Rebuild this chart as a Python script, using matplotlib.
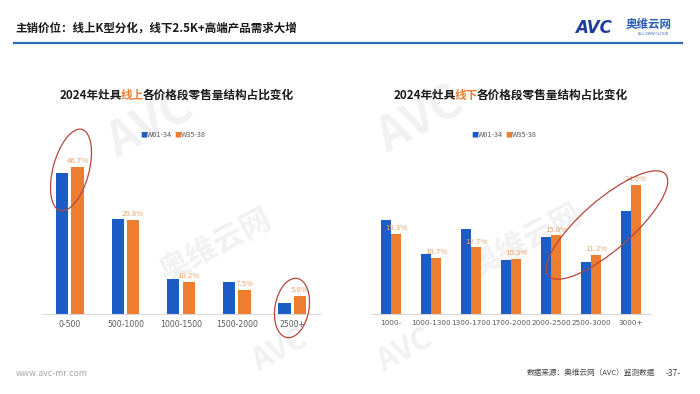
import matplotlib
matplotlib.use("Agg")
import matplotlib.pyplot as plt
import numpy as np
from matplotlib.patches import Ellipse

plt.rcParams['font.family'] = ['Noto Sans CJK SC', 'DejaVu Sans']

# ---- data ----
online_cats = ["0-500", "500-1000", "1000-1500", "1500-2000", "2500+"]
online_w01 = [45.0, 30.3, 11.2, 10.3, 3.6]
online_w35 = [46.7, 29.8, 10.2, 7.5, 5.8]

offline_cats = ["1000-", "1000-1300", "1300-1700", "1700-2000", "2000-2500", "2500-3000", "3000+"]
offline_w01 = [17.9, 11.5, 16.2, 10.4, 14.6, 9.9, 19.6]
offline_w35 = [15.3, 10.7, 12.7, 10.5, 15.0, 11.2, 24.6]

series_names = ["W01-34", "W35-38"]

BLUE = "#1B5CC6"
ORANGE = "#ED7D31"
LBL = "#E9A46E"
RED = "#B5473A"
W, H = 700, 394

fig = plt.figure(figsize=(7, 3.94), dpi=100)
fig.patch.set_facecolor("white")

def px(x, y):
    return x / W, 1 - y / H

# faint watermarks (behind the charts)
for (x, y, s, rot, fs) in [(150, 125, "AVC", 28, 34), (215, 245, "奥维云网", 28, 22),
                           (420, 120, "AVC", 28, 34), (525, 240, "奥维云网", 28, 22),
                           (280, 350, "AVC", 28, 22), (405, 350, "AVC", 28, 22)]:
    fig.text(*px(x, y), s, fontsize=fs, color="#F1F1F1", rotation=rot, ha="center",
             va="center", fontweight="bold", style="italic", zorder=-5)

# header
fig.text(*px(15, 28), "主销价位：线上K型分化，线下2.5K+高端产品需求大增", fontsize=8.3,
         fontweight="bold", color="#1a1a1a", va="center", ha="left")
fig.add_artist(plt.Line2D([14 / W, 682 / W], [1 - 43 / H] * 2, color="#2E6DB4", lw=1.6))
fig.text(*px(575, 28), "AVC", fontsize=12, fontweight="bold", style="italic",
         color="#1F3C99", va="center", ha="left", family="DejaVu Sans")
fig.text(*px(626, 24), "奥维云网", fontsize=8.3, fontweight="bold", color="#2A5CB8",
         va="center", ha="left")
fig.text(*px(638, 34), "ALL VIEW CLOUD", fontsize=2.8, color="#2A5CB8", va="center", ha="left")

# footer
fig.text(*px(16, 373), "www.avc-mr.com", fontsize=6.3, color="#A6A6A6", va="center")
fig.text(*px(655, 373), "数据来源：奥维云网（AVC）监测数据", fontsize=5.5, color="#404040",
         va="center", ha="right")
fig.text(*px(681, 373), "-37-", fontsize=6, color="#404040", va="center", ha="right")


def title(x0, y, part1, hl, part2):
    kw = dict(fontsize=8.4, fontweight="bold", va="bottom", ha="left",
              textcoords="offset points", xytext=(-1.2, 0), annotation_clip=False)
    t1 = fig.text(*px(x0, y), part1, fontsize=8.4, fontweight="bold", color="#1a1a1a",
                  va="center", ha="left")
    t2 = plt.annotate(hl, xy=(1, 0), xycoords=t1, color=ORANGE, **kw)
    plt.annotate(part2, xy=(1, 0), xycoords=t2, color="#1a1a1a", **kw)


def legend(cx, y):
    items = [(cx - 28, BLUE, series_names[0]), (cx + 6, ORANGE, series_names[1])]
    for x, c, s in items:
        fig.text(*px(x, y), "■", fontsize=5, color=c, va="center", ha="center")
        fig.text(*px(x + 3, y), s, fontsize=5.2, color="#595959", va="center", ha="left")


def panel(left, right, base, ppu, ymax, cats, a, b, off, bw, tfs):
    ax = fig.add_axes([left / W, (H - base) / H, (right - left) / W, ymax * ppu / H])
    n = len(cats)
    x = np.arange(n)
    ax.bar(x - off, a, bw, color=BLUE, zorder=2)
    bars = ax.bar(x + off, b, bw, color=ORANGE, zorder=2)
    for r, v in zip(bars, b):
        ax.text(r.get_x() + r.get_width() / 2, v + ymax * 0.012, f"{v:.1f}%", ha="center",
                va="bottom", fontsize=5.6, color=LBL)
    ax.set_xlim(-0.5, n - 0.5)
    ax.set_ylim(0, ymax)
    ax.set_xticks(x)
    ax.set_xticklabels(cats, fontsize=tfs, color="#595959", family="DejaVu Sans")
    ax.tick_params(axis="x", length=0, pad=4)
    ax.set_yticks([])
    for sp in ["top", "right", "left"]:
        ax.spines[sp].set_visible(False)
    ax.spines["bottom"].set_color("#D9D9D9")
    ax.patch.set_alpha(0)
    return ax

panel(42, 320, 314, 3.14, 52, online_cats, online_w01, online_w35, 0.14, 0.22, 5.6)
panel(371, 651, 314, 5.24, 30, offline_cats, offline_w01, offline_w35, 0.125, 0.23, 5.2)

title(60, 95, "2024年灶具", "线上", "各价格段零售量结构占比变化")
title(394, 95, "2024年灶具", "线下", "各价格段零售量结构占比变化")
legend(172, 135)
legend(503, 135)

# highlight ellipses (figure inches)
for cx, cy, w, h, ang in [(71, 170, 36, 84, -15), (292, 308, 34, 60, -10),
                          (607, 225, 155, 50, 41)]:
    fig.add_artist(Ellipse(((cx) / 100, (H - cy) / 100), w / 100, h / 100, angle=ang,
                           transform=fig.dpi_scale_trans, fill=False, ec=RED, lw=0.9,
                           zorder=5))

fig.savefig("out.png", dpi=100)
